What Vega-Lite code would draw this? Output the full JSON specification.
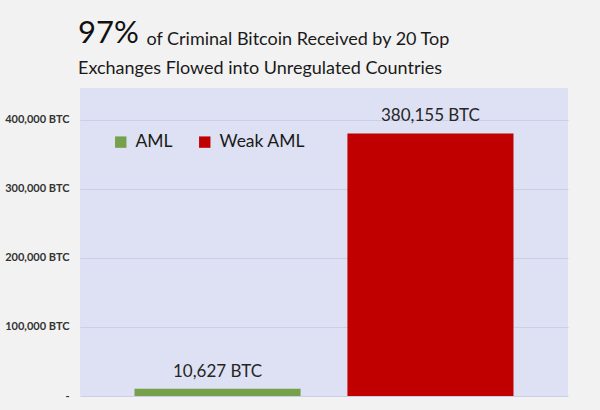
{
  "$schema": "https://vega.github.io/schema/vega-lite/v6.json",
  "autosize": "none",
  "width": 488,
  "height": 308,
  "padding": {"left": 80, "top": 88, "right": 32, "bottom": 14},
  "background": "#f2f2f2",
  "title": {
    "text": "97%",
    "subtitle": "Exchanges Flowed into Unregulated Countries",
    "anchor": "start",
    "frame": "group",
    "dx": -2,
    "offset": -49,
    "font": "Lato",
    "fontSize": 31,
    "fontWeight": "normal",
    "color": "#111111",
    "subtitleFont": "Lato",
    "subtitleFontSize": 18,
    "subtitleColor": "#1a1a1a",
    "subtitlePadding": 10
  },
  "data": {
    "values": [
      {"category": "AML", "btc": 10627, "label": "10,627 BTC"},
      {"category": "Weak AML", "btc": 380155, "label": "380,155 BTC"}
    ]
  },
  "encoding": {
    "x": {
      "field": "category",
      "type": "nominal",
      "sort": ["AML", "Weak AML"],
      "scale": {"paddingInner": 0.22, "paddingOuter": 0.256},
      "axis": null
    },
    "y": {
      "field": "btc",
      "type": "quantitative",
      "scale": {"domain": [0, 446000], "nice": false},
      "axis": {
        "values": [0, 100000, 200000, 300000, 400000],
        "labelExpr": "datum.value == 0 ? '-' : format(datum.value, ',') + ' BTC'",
        "ticks": false,
        "domain": false,
        "grid": true,
        "gridColor": "#cbcfe6",
        "gridWidth": 1,
        "labelAlign": "right",
        "labelPadding": 11,
        "labelFont": "Lato",
        "labelFontWeight": "bold",
        "labelFontSize": 11,
        "labelColor": "#333333",
        "title": "of Criminal Bitcoin Received by 20 Top",
        "titleAngle": 0,
        "titleX": 66,
        "titleY": -44,
        "titleAlign": "left",
        "titleBaseline": "alphabetic",
        "titleFont": "Lato",
        "titleFontSize": 18,
        "titleFontWeight": "normal",
        "titleColor": "#1a1a1a"
      }
    }
  },
  "layer": [
    {
      "mark": {"type": "bar"},
      "encoding": {
        "color": {
          "field": "category",
          "type": "nominal",
          "scale": {"domain": ["AML", "Weak AML"], "range": ["#77a04b", "#c00000"]},
          "legend": {
            "title": null,
            "orient": "none",
            "direction": "horizontal",
            "legendX": 32,
            "legendY": 45,
            "padding": 0,
            "symbolType": "square",
            "symbolSize": 130,
            "symbolStrokeWidth": 0,
            "labelOffset": 6,
            "columnPadding": 23,
            "labelFont": "Lato",
            "labelFontSize": 17.5,
            "labelColor": "#1a1a1a"
          }
        }
      }
    },
    {
      "mark": {"type": "text", "dy": -12, "baseline": "alphabetic", "font": "Lato", "fontSize": 17, "color": "#262626"},
      "encoding": {"text": {"field": "label"}}
    }
  ],
  "config": {
    "view": {"fill": "#dde1f3", "stroke": null}
  }
}
